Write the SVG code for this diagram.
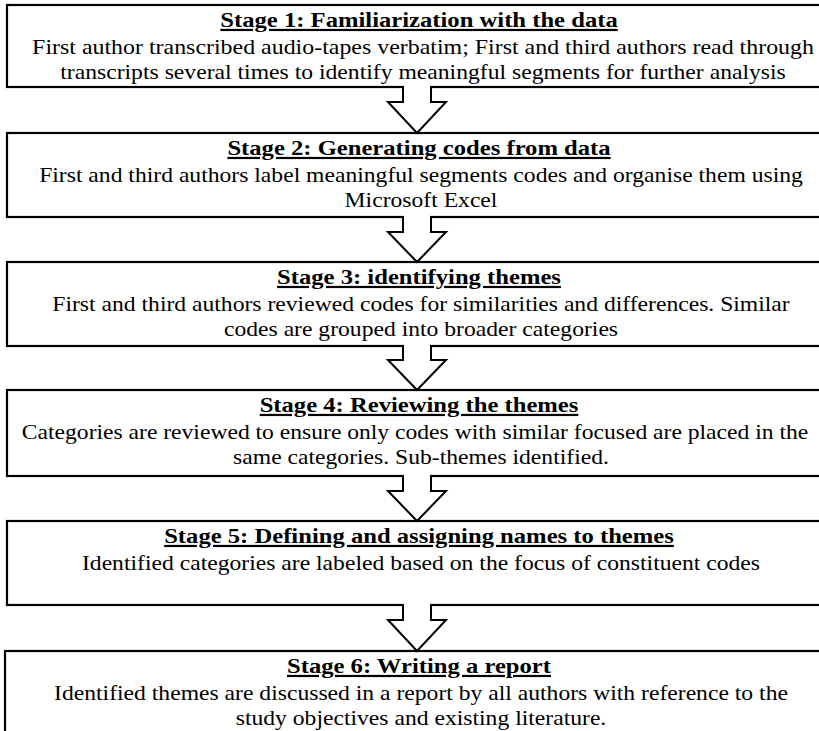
<svg xmlns="http://www.w3.org/2000/svg" width="819" height="731" viewBox="0 0 819 731">
<style>
.box{fill:#fff;stroke:#000;stroke-width:2.2}
.t{font-family:'Liberation Serif','Times New Roman','DejaVu Serif',serif;font-weight:bold;font-size:22px;text-anchor:middle;text-decoration:underline;fill:#000}
.b{font-family:'Liberation Serif','Times New Roman','DejaVu Serif',serif;font-size:21px;text-anchor:middle;fill:#000}
.af{fill:#fff;stroke:none}
.as{fill:none;stroke:#000;stroke-width:2;stroke-linejoin:miter}
</style>
<rect width="819" height="731" fill="#fff"/>
<g id="stage1">
<rect class="box" x="7" y="5" width="840" height="82"/>
<g transform="translate(419 0) scale(1.12 1)"><text class="t" x="0" y="27">Stage 1: Familiarization with the data</text></g>
<g transform="translate(421 0) scale(1.125 1)">
<text class="b" x="1.8" y="54" textLength="695" lengthAdjust="spacingAndGlyphs">First author transcribed audio-tapes verbatim; First and third authors read through</text>
<text class="b" x="1.8" y="79" textLength="645" lengthAdjust="spacingAndGlyphs">transcripts several times to identify meaningful segments for further analysis</text>
</g>
</g>
<g id="stage2">
<rect class="box" x="7" y="133" width="840" height="84"/>
<g transform="translate(419 0) scale(1.12 1)"><text class="t" x="0" y="155">Stage 2: Generating codes from data</text></g>
<g transform="translate(421 0) scale(1.125 1)">
<text class="b" x="0" y="182">First and third authors label meaningful segments codes and organise them using</text>
<text class="b" x="0" y="207">Microsoft Excel</text>
</g>
</g>
<g id="stage3">
<rect class="box" x="7" y="262" width="840" height="84"/>
<g transform="translate(419 0) scale(1.12 1)"><text class="t" x="0" y="284">Stage 3: identifying themes</text></g>
<g transform="translate(421 0) scale(1.125 1)">
<text class="b" x="0" y="311">First and third authors reviewed codes for similarities and differences. Similar</text>
<text class="b" x="0" y="336">codes are grouped into broader categories</text>
</g>
</g>
<g id="stage4">
<rect class="box" x="7" y="390" width="840" height="86"/>
<g transform="translate(419 0) scale(1.12 1)"><text class="t" x="0" y="412">Stage 4: Reviewing the themes</text></g>
<g transform="translate(421 0) scale(1.125 1)">
<text class="b" x="-5.3" y="439" textLength="699" lengthAdjust="spacingAndGlyphs">Categories are reviewed to ensure only codes with similar focused are placed in the</text>
<text class="b" x="0" y="464">same categories. Sub-themes identified.</text>
</g>
</g>
<g id="stage5">
<rect class="box" x="7" y="521" width="840" height="84"/>
<g transform="translate(419 0) scale(1.12 1)"><text class="t" x="0" y="543">Stage 5: Defining and assigning names to themes</text></g>
<g transform="translate(421 0) scale(1.125 1)">
<text class="b" x="0" y="570">Identified categories are labeled based on the focus of constituent codes</text>
</g>
</g>
<g id="stage6">
<rect class="box" x="5" y="651" width="840" height="100"/>
<g transform="translate(419 0) scale(1.12 1)"><text class="t" x="0" y="673">Stage 6: Writing a report</text></g>
<g transform="translate(421 0) scale(1.125 1)">
<text class="b" x="0" y="700">Identified themes are discussed in a report by all authors with reference to the</text>
<text class="b" x="0" y="725">study objectives and existing literature.</text>
</g>
</g>
<g id="connectors">
<polygon class="af" points="404,85 404,102 388,102 417,133 446,102 430,102 430,85"/>
<polyline class="as" points="403,87 403,102 388,102 417,133 446,102 431,102 431,87"/>
<polygon class="af" points="404,215 404,232 388,232 417,262 446,232 430,232 430,215"/>
<polyline class="as" points="403,217 403,232 388,232 417,262 446,232 431,232 431,217"/>
<polygon class="af" points="404,344 404,360 388,360 417,390 446,360 430,360 430,344"/>
<polyline class="as" points="403,346 403,360 388,360 417,390 446,360 431,360 431,346"/>
<polygon class="af" points="404,474 404,491 388,491 417,521 446,491 430,491 430,474"/>
<polyline class="as" points="403,476 403,491 388,491 417,521 446,491 431,491 431,476"/>
<polygon class="af" points="404,603 404,620 388,620 417,651 446,620 430,620 430,603"/>
<polyline class="as" points="403,605 403,620 388,620 417,651 446,620 431,620 431,605"/>
</g>
</svg>
